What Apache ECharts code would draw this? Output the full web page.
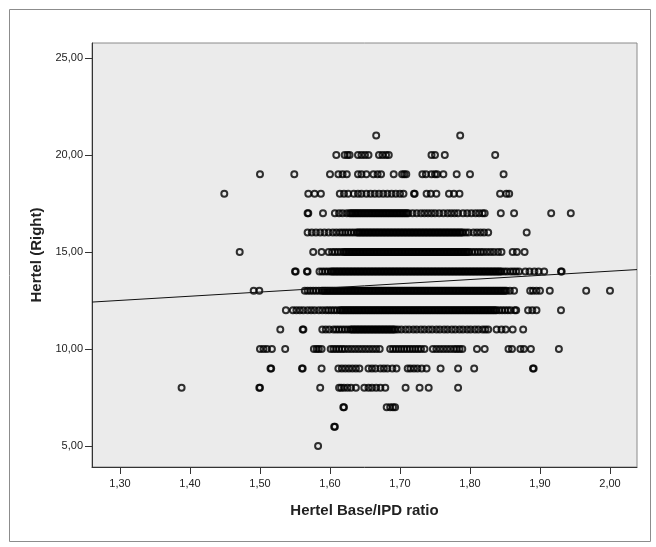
<!DOCTYPE html>
<html>
<head>
<meta charset="utf-8">
<script src="https://cdn.jsdelivr.net/npm/echarts@6/dist/echarts.min.js"></script>
<style>
html,body{margin:0;padding:0;background:#fff;}
#c{width:656px;height:547px;}
</style>
</head>
<body>
<div id="c"></div>
<script>
// Hertel (Right) values by row (y value) -> Hertel Base/IPD ratio values (x)
const row21 = [1.666, 1.786];
const row20 = [1.609, 1.621, 1.625, 1.628, 1.640, 1.645, 1.650, 1.655, 1.670, 1.675, 1.680, 1.684, 1.745, 1.750, 1.764, 1.836];
const row19 = [1.500, 1.549, 1.600, 1.612, 1.618, 1.624, 1.640, 1.645, 1.652, 1.662, 1.668, 1.673, 1.691, 1.703, 1.706, 1.709, 1.732, 1.737, 1.745, 1.750, 1.753, 1.762, 1.781, 1.800, 1.848];
const row18 = [1.449, 1.569, 1.578, 1.587, 1.614, 1.620, 1.626, 1.634, 1.640, 1.645, 1.652, 1.658, 1.664, 1.670, 1.676, 1.682, 1.688, 1.694, 1.700, 1.705, 1.720, 1.721, 1.738, 1.744, 1.752, 1.770, 1.777, 1.785, 1.843, 1.852, 1.856];
const row17 = [1.568, 1.569, 1.590, 1.607, 1.613, 1.618, 1.624, 1.628, 1.632, 1.636, 1.640, 1.644, 1.648, 1.652, 1.656, 1.660, 1.664, 1.668, 1.672, 1.676, 1.680, 1.684, 1.688, 1.692, 1.696, 1.700, 1.704, 1.708, 1.712, 1.718, 1.724, 1.730, 1.735, 1.740, 1.745, 1.750, 1.756, 1.762, 1.768, 1.773, 1.778, 1.783, 1.790, 1.796, 1.802, 1.808, 1.813, 1.818, 1.821, 1.844, 1.863, 1.916, 1.944,
  1.630, 1.634, 1.638, 1.642, 1.646, 1.650, 1.654, 1.658, 1.662, 1.666, 1.670, 1.674, 1.678, 1.682, 1.686, 1.690, 1.694, 1.698, 1.702, 1.706, 1.710];
const row16 = [1.568, 1.574, 1.580, 1.586, 1.592, 1.598, 1.604, 1.609, 1.614, 1.618, 1.622, 1.626, 1.630, 1.634, 1.638, 1.642, 1.646, 1.650, 1.654, 1.658, 1.662, 1.666, 1.670, 1.674, 1.678, 1.682, 1.686, 1.690, 1.694, 1.698, 1.702, 1.706, 1.710, 1.714, 1.718, 1.722, 1.726, 1.730, 1.734, 1.738, 1.742, 1.746, 1.750, 1.754, 1.758, 1.762, 1.766, 1.770, 1.774, 1.778, 1.782, 1.786, 1.790, 1.794, 1.798, 1.805, 1.810, 1.815, 1.820, 1.826, 1.881,
  1.640, 1.644, 1.648, 1.652, 1.656, 1.660, 1.664, 1.668, 1.672, 1.676, 1.680, 1.684, 1.688, 1.692, 1.696, 1.700, 1.704, 1.708, 1.712, 1.716, 1.720, 1.724, 1.728, 1.732, 1.736, 1.740, 1.744, 1.748, 1.752, 1.756, 1.760, 1.764, 1.768, 1.772, 1.776, 1.780, 1.784, 1.788];
const row15 = [1.471, 1.576, 1.588, 1.598, 1.603, 1.607, 1.611, 1.615, 1.619, 1.623, 1.627, 1.631, 1.635, 1.639, 1.643, 1.647, 1.651, 1.655, 1.659, 1.663, 1.667, 1.671, 1.675, 1.679, 1.683, 1.687, 1.691, 1.695, 1.699, 1.703, 1.707, 1.711, 1.715, 1.719, 1.723, 1.727, 1.731, 1.735, 1.739, 1.743, 1.747, 1.751, 1.755, 1.759, 1.763, 1.767, 1.771, 1.775, 1.779, 1.783, 1.787, 1.791, 1.795, 1.799, 1.803, 1.807, 1.811, 1.815, 1.819, 1.824, 1.829, 1.834, 1.840, 1.845, 1.861, 1.867, 1.878,
  1.621, 1.625, 1.629, 1.633, 1.637, 1.641, 1.645, 1.649, 1.653, 1.657, 1.661, 1.665, 1.669, 1.673, 1.677, 1.681, 1.685, 1.689, 1.693, 1.697, 1.701, 1.705, 1.709, 1.713, 1.717, 1.721, 1.725, 1.729, 1.733, 1.737, 1.741, 1.745, 1.749, 1.753, 1.757, 1.761, 1.765, 1.769, 1.773, 1.777, 1.781, 1.785, 1.789, 1.793, 1.797];
const row14 = [1.550, 1.551, 1.567, 1.568, 1.585, 1.589, 1.593, 1.597, 1.601, 1.605, 1.609, 1.613, 1.617, 1.621, 1.625, 1.629, 1.633, 1.637, 1.641, 1.645, 1.649, 1.653, 1.657, 1.661, 1.665, 1.669, 1.673, 1.677, 1.681, 1.685, 1.689, 1.693, 1.697, 1.701, 1.705, 1.709, 1.713, 1.717, 1.721, 1.725, 1.729, 1.733, 1.737, 1.741, 1.745, 1.749, 1.753, 1.757, 1.761, 1.765, 1.769, 1.773, 1.777, 1.781, 1.785, 1.789, 1.793, 1.797, 1.801, 1.805, 1.809, 1.813, 1.817, 1.821, 1.825, 1.829, 1.833, 1.837, 1.841, 1.845, 1.849, 1.853, 1.858, 1.862, 1.866, 1.870, 1.879, 1.885, 1.892, 1.898, 1.906, 1.930, 1.931,
  1.603, 1.607, 1.611, 1.615, 1.619, 1.623, 1.627, 1.631, 1.635, 1.639, 1.643, 1.647, 1.651, 1.655, 1.659, 1.663, 1.667, 1.671, 1.675, 1.679, 1.683, 1.687, 1.691, 1.695, 1.699, 1.703, 1.707, 1.711, 1.715, 1.719, 1.723, 1.727, 1.731, 1.735, 1.739, 1.743, 1.747, 1.751, 1.755, 1.759, 1.763, 1.767, 1.771, 1.775, 1.779, 1.783, 1.787, 1.791, 1.795, 1.799, 1.803, 1.807, 1.811, 1.815, 1.819, 1.823, 1.827, 1.831, 1.835, 1.839, 1.843];
const row13 = [1.491, 1.499, 1.564, 1.568, 1.572, 1.576, 1.580, 1.584, 1.588, 1.592, 1.596, 1.600, 1.604, 1.608, 1.612, 1.616, 1.620, 1.624, 1.628, 1.632, 1.636, 1.640, 1.644, 1.648, 1.652, 1.656, 1.660, 1.664, 1.668, 1.672, 1.676, 1.680, 1.684, 1.688, 1.692, 1.696, 1.700, 1.704, 1.708, 1.712, 1.716, 1.720, 1.724, 1.728, 1.732, 1.736, 1.740, 1.744, 1.748, 1.752, 1.756, 1.760, 1.764, 1.768, 1.772, 1.776, 1.780, 1.784, 1.788, 1.792, 1.796, 1.800, 1.804, 1.808, 1.812, 1.816, 1.820, 1.824, 1.828, 1.832, 1.836, 1.840, 1.844, 1.848, 1.852, 1.857, 1.863, 1.886, 1.890, 1.895, 1.900, 1.914, 1.966, 2.000,
  1.590, 1.594, 1.598, 1.602, 1.606, 1.610, 1.614, 1.618, 1.622, 1.626, 1.630, 1.634, 1.638, 1.642, 1.646, 1.650, 1.654, 1.658, 1.662, 1.666, 1.670, 1.674, 1.678, 1.682, 1.686, 1.690, 1.694, 1.698, 1.702, 1.706, 1.710, 1.714, 1.718, 1.722, 1.726, 1.730, 1.734, 1.738, 1.742, 1.746, 1.750, 1.754, 1.758, 1.762, 1.766, 1.770, 1.774, 1.778, 1.782, 1.786, 1.790, 1.794, 1.798, 1.802, 1.806, 1.810, 1.814, 1.818, 1.822, 1.826, 1.830, 1.834, 1.838, 1.842, 1.846, 1.850];
const row12 = [1.537, 1.547, 1.552, 1.557, 1.562, 1.568, 1.573, 1.578, 1.584, 1.589, 1.594, 1.598, 1.602, 1.606, 1.610, 1.614, 1.618, 1.622, 1.626, 1.630, 1.634, 1.638, 1.642, 1.646, 1.650, 1.654, 1.658, 1.662, 1.666, 1.670, 1.674, 1.678, 1.682, 1.686, 1.690, 1.694, 1.698, 1.702, 1.706, 1.710, 1.714, 1.718, 1.722, 1.726, 1.730, 1.734, 1.738, 1.742, 1.746, 1.750, 1.754, 1.758, 1.762, 1.766, 1.770, 1.774, 1.778, 1.782, 1.786, 1.790, 1.794, 1.798, 1.802, 1.806, 1.810, 1.814, 1.818, 1.822, 1.826, 1.830, 1.834, 1.838, 1.842, 1.846, 1.850, 1.854, 1.858, 1.864, 1.866, 1.883, 1.889, 1.895, 1.930,
  1.616, 1.620, 1.624, 1.628, 1.632, 1.636, 1.640, 1.644, 1.648, 1.652, 1.656, 1.660, 1.664, 1.668, 1.672, 1.676, 1.680, 1.684, 1.688, 1.692, 1.696, 1.700, 1.704, 1.708, 1.712, 1.716, 1.720, 1.724, 1.728, 1.732, 1.736, 1.740, 1.744, 1.748, 1.752, 1.756, 1.760, 1.764, 1.768, 1.772, 1.776, 1.780, 1.784, 1.788, 1.792, 1.796, 1.800, 1.804, 1.808, 1.812, 1.816, 1.820, 1.824, 1.828, 1.832, 1.836];
const row11 = [1.529, 1.561, 1.562, 1.589, 1.594, 1.599, 1.605, 1.609, 1.613, 1.617, 1.621, 1.625, 1.629, 1.633, 1.637, 1.641, 1.645, 1.649, 1.653, 1.657, 1.661, 1.665, 1.669, 1.673, 1.677, 1.681, 1.685, 1.689, 1.693, 1.697, 1.702, 1.708, 1.713, 1.719, 1.724, 1.730, 1.735, 1.741, 1.746, 1.752, 1.757, 1.763, 1.768, 1.774, 1.779, 1.785, 1.790, 1.796, 1.801, 1.807, 1.812, 1.818, 1.822, 1.826, 1.838, 1.845, 1.851, 1.861, 1.876,
  1.631, 1.635, 1.639, 1.643, 1.647, 1.651, 1.655, 1.659, 1.663, 1.667, 1.671, 1.675, 1.679, 1.683, 1.687, 1.691];
const row10 = [1.500, 1.505, 1.510, 1.517, 1.536, 1.577, 1.581, 1.584, 1.588, 1.601, 1.605, 1.609, 1.613, 1.617, 1.621, 1.626, 1.631, 1.636, 1.641, 1.646, 1.651, 1.656, 1.661, 1.666, 1.671, 1.686, 1.690, 1.694, 1.698, 1.702, 1.706, 1.710, 1.714, 1.718, 1.722, 1.726, 1.730, 1.735, 1.747, 1.752, 1.757, 1.762, 1.767, 1.772, 1.777, 1.781, 1.785, 1.789, 1.810, 1.821, 1.855, 1.860, 1.872, 1.877, 1.887, 1.927];
const row9 = [1.515, 1.516, 1.560, 1.561, 1.588, 1.612, 1.617, 1.622, 1.627, 1.632, 1.637, 1.642, 1.655, 1.660, 1.665, 1.672, 1.677, 1.682, 1.689, 1.695, 1.711, 1.715, 1.720, 1.725, 1.731, 1.738, 1.758, 1.783, 1.806, 1.890, 1.891];
const row8 = [1.388, 1.499, 1.500, 1.586, 1.613, 1.616, 1.620, 1.625, 1.630, 1.637, 1.649, 1.655, 1.660, 1.666, 1.672, 1.679, 1.708, 1.728, 1.741, 1.783];
const row7 = [1.619, 1.620, 1.681, 1.686, 1.690, 1.693];
const row6 = [1.606, 1.607];
const row5 = [1.583];

const rows = [[5,row5],[6,row6],[7,row7],[8,row8],[9,row9],[10,row10],[11,row11],[12,row12],[13,row13],[14,row14],[15,row15],[16,row16],[17,row17],[18,row18],[19,row19],[20,row20],[21,row21]];

// Fit line (linear regression) coefficients
const fitIntercept = 9.71;
const fitSlope = 2.15;

// Axis ticks
const xTicks = [1.30, 1.40, 1.50, 1.60, 1.70, 1.80, 1.90, 2.00];
const yTicks = [5, 10, 15, 20, 25];
const xRange = [1.26, 2.0386];
const yRange = [3.92, 25.77];

const points = [];
rows.forEach(function (r) { r[1].forEach(function (x) { points.push([x, r[0]]); }); });
const fitLine = [
  [xRange[0], fitIntercept + fitSlope * xRange[0]],
  [xRange[1], fitIntercept + fitSlope * xRange[1]]
];

const chart = echarts.init(document.getElementById('c'), null, {renderer: 'canvas'});
const labelFont = {fontFamily: 'Liberation Sans, Arial, sans-serif', fontSize: 11, color: '#222'};
chart.setOption({
  animation: false,
  backgroundColor: '#ffffff',
  graphic: [{
    type: 'rect', left: 7, top: 7, z: -10,
    shape: {x: 0, y: 0, width: 641, height: 532},
    style: {fill: 'none', stroke: '#8c8c8c', lineWidth: 1}
  }],
  grid: {
    left: 92, right: 19, top: 43, bottom: 80,
    show: true, backgroundColor: '#ebebeb', borderColor: '#8a8a8a', borderWidth: 1
  },
  xAxis: {
    type: 'value', min: xRange[0], max: xRange[1],
    name: 'Hertel Base/IPD ratio', nameLocation: 'middle', nameGap: 36,
    nameTextStyle: {fontFamily: 'Liberation Sans, Arial, sans-serif', fontSize: 15, fontWeight: 'bold', color: '#222'},
    axisLine: {show: true, lineStyle: {color: '#333', width: 1}},
    axisTick: {show: true, length: 7, customValues: xTicks, lineStyle: {color: '#333'}},
    axisLabel: Object.assign({customValues: xTicks, margin: 11, formatter: function (v) { return v.toFixed(2).replace('.', ','); }}, labelFont),
    splitLine: {show: false}
  },
  yAxis: {
    type: 'value', min: yRange[0], max: yRange[1],
    name: 'Hertel (Right)', nameLocation: 'middle', nameGap: 46,
    nameTextStyle: {fontFamily: 'Liberation Sans, Arial, sans-serif', fontSize: 15, fontWeight: 'bold', color: '#222'},
    axisLine: {show: true, lineStyle: {color: '#333', width: 1}},
    axisTick: {show: true, length: 7, customValues: yTicks, lineStyle: {color: '#333'}},
    axisLabel: Object.assign({customValues: yTicks, margin: 9, formatter: function (v) { return v.toFixed(2).replace('.', ','); }}, labelFont),
    splitLine: {show: false}
  },
  series: [{
    type: 'scatter',
    data: points,
    symbol: 'circle',
    symbolSize: 6,
    itemStyle: {color: 'rgba(0,0,0,0)', borderColor: '#000', borderWidth: 2},
    z: 2
  }, {
    type: 'line',
    data: fitLine,
    showSymbol: false,
    lineStyle: {color: '#111', width: 1},
    z: 3
  }]
});
</script>
</body>
</html>
